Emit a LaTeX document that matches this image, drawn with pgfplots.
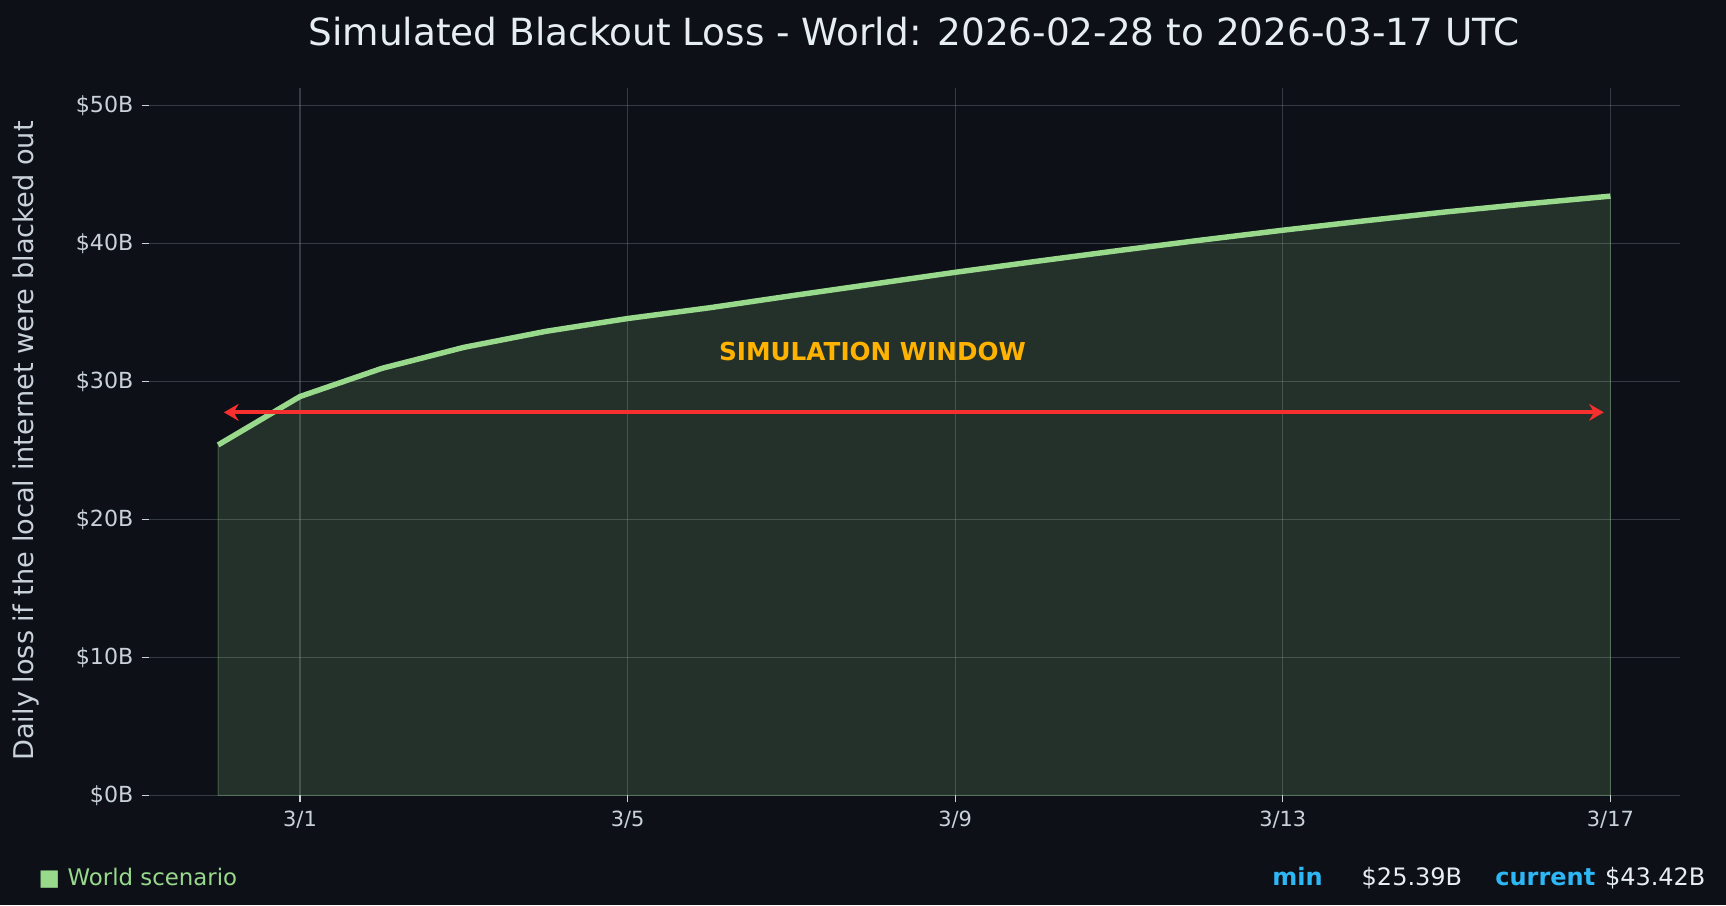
\documentclass[border=0pt]{standalone}
\usepackage{fontspec}
\setmainfont{DejaVu Sans}
\usepackage{pgfplots}
\usepackage{pgfplotstable}
\pgfplotsset{compat=1.18}
\usetikzlibrary{arrows.meta}

\definecolor{bg}{HTML}{0D1117}
\definecolor{linec}{HTML}{98D98C}
\definecolor{tickc}{HTML}{C9D1D9}
\definecolor{titlec}{HTML}{E6EDF3}
\definecolor{gridc}{HTML}{8B949E}
\definecolor{redc}{HTML}{F5302E}
\definecolor{orangec}{HTML}{FFB300}
\definecolor{bluec}{HTML}{2DB7F5}

% day 0 = 3/1
\pgfplotstableread{
x y
-1 25.39
0 28.90
1 30.94
2 32.46
3 33.62
4 34.55
5 35.33
6 36.20
7 37.05
8 37.90
9 38.70
10 39.48
11 40.23
12 40.95
13 41.63
14 42.28
15 42.87
16 43.42
}\worldloss

\begin{document}
\begin{tikzpicture}
\fill[bg] (0,0) rectangle (17.26,9.05);
\useasboundingbox (0,0) rectangle (17.26,9.05);
\begin{axis}[
  at={(1.485cm,1.097cm)}, anchor=south west,
  scale only axis, width=15.315cm, height=7.071cm,
  xmin=-1.85, xmax=16.85, ymin=0, ymax=51.24,
  axis line style={draw=none},
  xtick={0,4,8,12,16},
  xticklabels={3/1,3/5,3/9,3/13,3/17},
  ytick={0,10,20,30,40,50},
  yticklabels={\$0B,\$10B,\$20B,\$30B,\$40B,\$50B},
  xtick pos=left, ytick pos=left,
  tick align=outside, major tick length=0.07cm,
  tick style={color=tickc, line width=0.35pt},
  grid=major,
  major grid style={color=gridc, line width=0.3pt, opacity=0.32},
  ticklabel style={color=tickc, inner sep=0pt},
  yticklabel style={font=\fontsize{6.3}{7}\selectfont, anchor=east, xshift=-0.075cm},
  xticklabel style={font=\fontsize{5.95}{7}\selectfont, anchor=north, yshift=-0.08cm},
]
\addplot[fill=linec, fill opacity=0.165, draw=linec, draw opacity=0.3, line width=0.3pt]
  table[x=x, y=y] {\worldloss} \closedcycle;
\addplot[color=linec, line width=1.55pt, mark=none] table[x=x, y=y] {\worldloss};
\addplot[color=redc, line width=1.15pt, mark=none,
  {Stealth[length=4.2pt,width=4.8pt,inset=1.4pt]}-{Stealth[length=4.2pt,width=4.8pt,inset=1.4pt]}]
  coordinates {(-0.93,27.75) (15.92,27.75)};
\node[font=\fontsize{7.03}{8}\selectfont\bfseries, text=orangec, inner sep=0pt]
  at (axis cs:6.99,32.17) {SIMULATION WINDOW};
\end{axis}
\node[anchor=base, font=\fontsize{10.64}{12}\selectfont, text=titlec, inner sep=0pt]
  at (9.14,8.60) {Simulated Blackout Loss - World: 2026-02-28 to 2026-03-17 UTC};
\node[rotate=90, font=\fontsize{7.74}{9}\selectfont, text=tickc, inner sep=0pt]
  at (0.264,4.64) {Daily loss if the local internet were blacked out};
\node[anchor=base west, font=\fontsize{6.45}{7}\selectfont, text=linec, inner sep=0pt]
  at (0.38,0.20) {■};
\node[anchor=base west, font=\fontsize{6.5}{7}\selectfont, text=linec, inner sep=0pt]
  at (0.67,0.20) {World scenario};
\node[anchor=base west, font=\fontsize{6.83}{8}\selectfont\bfseries, text=bluec, inner sep=0pt]
  at (12.717,0.20) {min};
\node[anchor=base west, font=\fontsize{6.83}{8}\selectfont, text=titlec, inner sep=0pt]
  at (13.61,0.20) {\$25.39B};
\node[anchor=base west, font=\fontsize{6.83}{8}\selectfont\bfseries, text=bluec, inner sep=0pt]
  at (14.947,0.20) {current};
\node[anchor=base west, font=\fontsize{6.83}{8}\selectfont, text=titlec, inner sep=0pt]
  at (16.043,0.20) {\$43.42B};
\end{tikzpicture}
\end{document}
